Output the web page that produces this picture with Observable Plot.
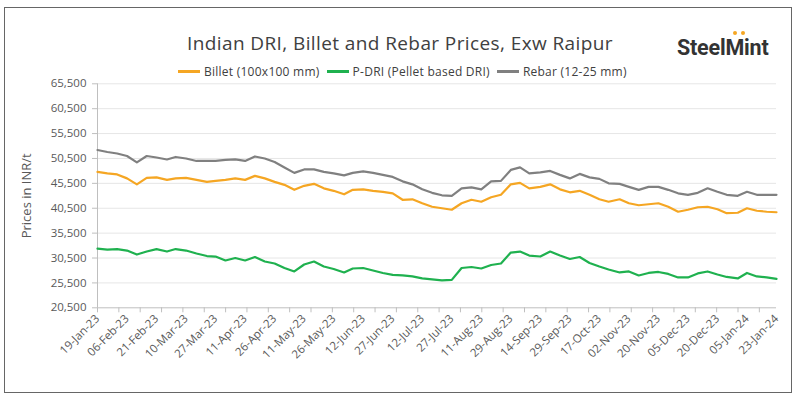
<!DOCTYPE html>
<html><head><meta charset="utf-8">
<script src="https://cdn.jsdelivr.net/npm/d3@7"></script>
<script src="https://cdn.jsdelivr.net/npm/@observablehq/plot@0.6"></script>
<style>
body{margin:0;background:#fff;font-family:"Open Sans",sans-serif;}
#wrap{position:relative;width:800px;height:400px;overflow:hidden;background:#fff}
#frame{position:absolute;left:4px;top:7px;width:788px;height:386px;border:1.5px solid #666;box-sizing:border-box;pointer-events:none}
#header{position:relative;height:66px}
#title{position:absolute;left:0;top:30px;width:800px;text-align:center;font-size:19px;color:#404040;letter-spacing:0.4px}
#logo{position:absolute;left:677px;top:35px;font-family:Roboto,sans-serif;font-weight:700;font-size:21.5px;color:#333;letter-spacing:-0.2px}
.dot{position:absolute;width:4px;height:4px;border-radius:2px;background:#F5A623}
#legend{position:absolute;top:63px;left:178px;display:flex;align-items:center;font-size:12px;color:#404040;white-space:nowrap;z-index:2;letter-spacing:0.25px}
#legend .sw{display:inline-block;width:22px;height:2.5px;margin-right:4px}
#legend .it{display:flex;align-items:center;margin-right:7px}
#chart svg{display:block}
</style></head>
<body>
<div id="wrap">
  <div id="header">
    <div id="title">Indian DRI, Billet and Rebar Prices, Exw Raipur</div>
    <div id="logo">SteelMint</div>
    <div class="dot" style="left:733px;top:31px"></div>
    <div class="dot" style="left:741px;top:31px"></div>
    <div id="legend"></div>
  </div>
  <div id="chart"></div>
  <div id="frame"></div>
</div>
<script>
const tickLabels = ["19-Jan-23","06-Feb-23","21-Feb-23","10-Mar-23","27-Mar-23","11-Apr-23","26-Apr-23","11-May-23","26-May-23","12-Jun-23","27-Jun-23","12-Jul-23","27-Jul-23","11-Aug-23","29-Aug-23","14-Sep-23","29-Sep-23","17-Oct-23","02-Nov-23","20-Nov-23","05-Dec-23","20-Dec-23","05-Jan-24","23-Jan-24"];
const yTicks = [20500,25500,30500,35500,40500,45500,50500,55500,60500,65500];
const yTitle = "Prices in INR/t";
const seriesNames = ["Billet (100x100 mm)","P-DRI (Pellet based DRI)","Rebar (12-25 mm)"];
const seriesColors = ["#F5A623","#1FB14F","#808080"];
const sampleDates = ["2023-01-19","2023-01-25","2023-01-31","2023-02-06","2023-02-11","2023-02-16","2023-02-21","2023-02-27","2023-03-04","2023-03-10","2023-03-16","2023-03-22","2023-03-27","2023-04-01","2023-04-06","2023-04-11","2023-04-16","2023-04-21","2023-04-26","2023-05-01","2023-05-06","2023-05-11","2023-05-16","2023-05-21","2023-05-26","2023-06-01","2023-06-06","2023-06-12","2023-06-17","2023-06-22","2023-06-27","2023-07-02","2023-07-07","2023-07-12","2023-07-17","2023-07-22","2023-07-27","2023-08-01","2023-08-06","2023-08-11","2023-08-17","2023-08-23","2023-08-29","2023-09-03","2023-09-08","2023-09-14","2023-09-19","2023-09-24","2023-09-29","2023-10-05","2023-10-11","2023-10-17","2023-10-22","2023-10-28","2023-11-02","2023-11-08","2023-11-14","2023-11-20","2023-11-25","2023-11-30","2023-12-05","2023-12-10","2023-12-15","2023-12-20","2023-12-25","2023-12-31","2024-01-05","2024-01-11","2024-01-17","2024-01-23"];
const billet = [47800,47500,47300,46500,45300,46600,46700,46200,46500,46600,46200,45800,46000,46200,46500,46200,47000,46500,45800,45200,44200,45000,45400,44500,44000,43300,44200,44300,44000,43800,43500,42200,42300,41500,40800,40500,40200,41500,42200,41800,42700,43200,45300,45600,44500,44800,45300,44300,43700,44000,43200,42300,41800,42300,41500,41100,41300,41500,40800,39800,40200,40700,40800,40300,39500,39600,40500,40000,39800,39700];
const pdri = [32400,32200,32300,32000,31200,31800,32300,31800,32300,32000,31400,30900,30800,30000,30500,30000,30700,29800,29400,28500,27800,29200,29800,28800,28300,27600,28400,28500,28000,27500,27100,27000,26800,26400,26200,26000,26100,28500,28700,28400,29100,29400,31600,31800,31000,30800,31800,31000,30300,30700,29500,28800,28200,27600,27800,27000,27500,27700,27300,26600,26600,27400,27800,27200,26700,26400,27500,26800,26600,26300];
const rebar = [52200,51800,51500,51000,49700,51000,50700,50300,50800,50500,50000,50000,50000,50200,50300,50000,50900,50500,49800,48700,47600,48300,48300,47800,47500,47100,47600,47900,47600,47200,46800,45900,45300,44300,43600,43100,43000,44500,44700,44300,45900,46000,48200,48700,47500,47700,48000,47200,46500,47400,46700,46400,45500,45400,44800,44200,44800,44800,44200,43500,43200,43600,44500,43800,43200,43000,43800,43200,43200,43200];

const leg = document.getElementById("legend");
seriesNames.forEach((n,i)=>{
  const it=document.createElement("span");it.className="it";
  it.innerHTML=`<span class="sw" style="background:${seriesColors[i]}"></span>${n}`;
  leg.appendChild(it);
});

const parseLabel = d3.utcParse("%d-%b-%y");
const labelDates = tickLabels.map(parseLabel);
const pos = d3.scaleUtc().domain(labelDates).range(d3.range(labelDates.length));
const valuesBySeries = [billet, pdri, rebar];
const parseISO = d3.utcParse("%Y-%m-%d");
const rows = seriesNames.flatMap((name,si)=> sampleDates.map((d,i)=>{
  const dt = parseISO(d);
  return {series:name, date:dt, pos:pos(dt), value:valuesBySeries[si][i]};
}));

const minorTicks = d3.range(0, tickLabels.length-1, 0.7232);

const chart = Plot.plot({
  width: 800, height: 334,
  marginLeft: 97, marginRight: 24, marginTop: 17.3, marginBottom: 92.7,
  x: {type:"linear", domain:[0, tickLabels.length-1]},
  y: {domain:[20500,65500]},
  color: {domain: seriesNames, range: seriesColors},
  style: {fontFamily:"Open Sans, sans-serif", fontSize:"11px", color:"#595959", background:"transparent"},
  marks: [
    Plot.gridY(yTicks.slice(1), {stroke:"#e6e6e6", strokeOpacity:1}),
    Plot.ruleX([0], {stroke:"#bfbfbf"}),
    Plot.ruleY([20500], {stroke:"#bfbfbf"}),
    Plot.axisY({ticks: yTicks, tickFormat: d3.format(","), tickSize:5, tickPadding:6, stroke:"#bfbfbf", fill:"#595959", label:null, fontSize:11.5}),
    Plot.text([yTitle], {frameAnchor:"left", rotate:-90, dx:-71, textAnchor:"middle", fill:"#595959", fontSize:13}),
    Plot.axisX({ticks: minorTicks, tickFormat: ()=> "", tickSize:5, stroke:"#bfbfbf", label:null}),
    Plot.axisX({ticks: d3.range(tickLabels.length), tickFormat: i=>tickLabels[i], tickRotate:-45, tickSize:0, tickPadding:9, label:null, fill:"#595959", fontSize:11.5, style:"letter-spacing:0.3px"}),
    Plot.lineY(rows, {x:"pos", y:"value", z:"series", stroke:"series", strokeWidth:2.2, strokeLinejoin:"round"})
  ]
});
document.getElementById("chart").appendChild(chart);
</script>
</body></html>
